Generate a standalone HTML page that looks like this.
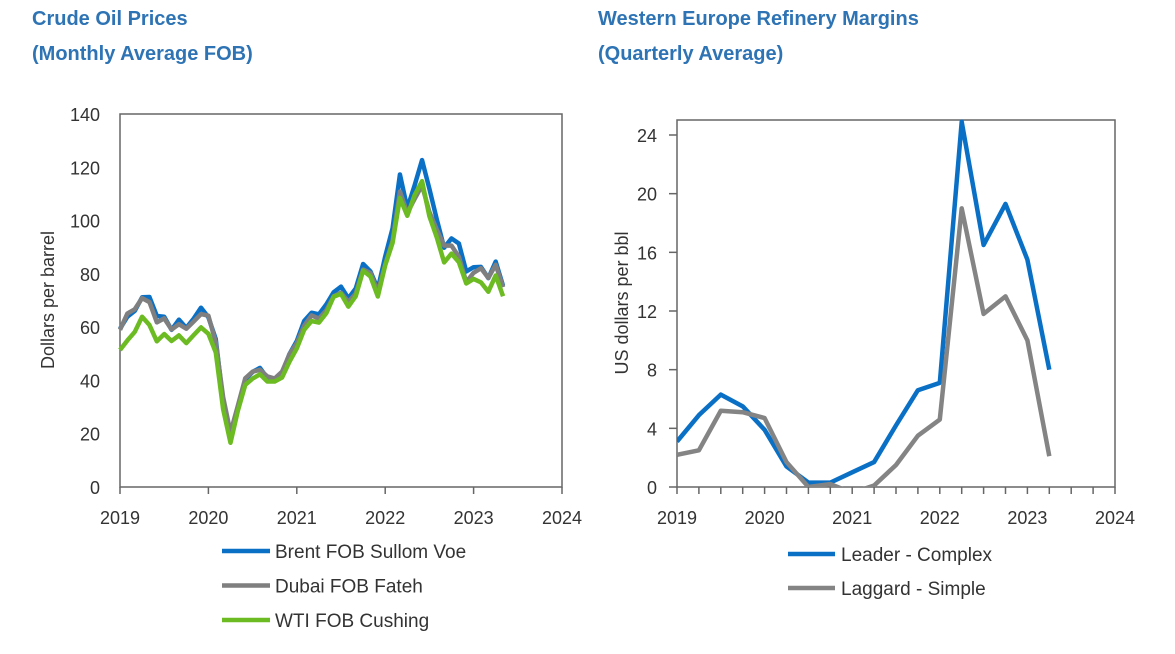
<!DOCTYPE html>
<html><head><meta charset="utf-8"><style>
body{margin:0;background:#fff;width:1175px;height:654px;overflow:hidden;font-family:"Liberation Sans",Arial,sans-serif}
.t{position:absolute;color:#2E74B5;font-weight:bold;font-size:20px;line-height:35px}
</style></head><body>
<div class="t" style="left:32px;top:2px">Crude Oil Prices<br>(Monthly Average FOB)</div>
<div class="t" style="left:598px;top:2px">Western Europe Refinery Margins<br>(Quarterly Average)</div>
<svg id="svg" width="1175" height="654" style="position:absolute;left:0;top:0" font-family="Liberation Sans, Arial, sans-serif"></svg>
<script>
const oilYears=["2019","2020","2021","2022","2023","2024"];
const oilTicks=[0,20,40,60,80,100,120,140];
const brent=[59.4,63.9,66.1,71.2,71.3,64.2,63.9,59.0,62.8,59.7,63.2,67.3,63.7,55.5,32.0,18.4,29.4,40.3,43.2,44.7,40.9,40.2,42.7,49.9,54.8,62.3,65.4,64.8,68.5,73.1,75.2,70.8,74.5,83.7,80.9,74.3,86.5,97.1,117.3,104.6,113.3,122.7,111.9,100.5,89.8,93.3,91.4,80.9,82.5,82.6,78.4,84.6,75.5];
const dubai=[59.0,65.1,66.7,70.9,69.4,61.8,63.3,59.1,61.1,59.4,62.1,64.9,64.3,54.2,33.7,20.4,30.5,40.8,43.3,44.0,41.5,40.7,43.3,49.8,54.0,60.5,64.4,63.2,66.3,71.6,72.9,69.5,72.6,81.6,80.3,73.2,83.5,92.4,110.9,102.8,108.2,113.2,103.2,96.6,90.6,90.6,86.4,76.9,80.4,82.1,78.5,83.4,75.0];
const wti=[51.4,55.0,58.2,63.9,60.8,54.7,57.4,54.8,56.9,54.0,57.0,59.9,57.5,50.5,29.2,16.6,28.6,38.3,40.7,42.3,39.6,39.6,41.1,47.0,52.0,59.0,62.3,61.7,65.2,71.4,72.5,67.7,71.6,81.2,79.0,71.5,83.2,91.6,108.5,101.8,109.6,114.8,101.6,93.7,84.3,87.6,84.4,76.4,78.1,76.8,73.3,79.4,71.6];
const oilSeries=["Brent FOB Sullom Voe","Dubai FOB Fateh","WTI FOB Cushing"];
const marginYears=["2019","2020","2021","2022","2023","2024"];
const marginTicks=[0,4,8,12,16,20,24];
const leader=[3.1,4.9,6.3,5.5,3.9,1.4,0.3,0.3,1.0,1.7,4.2,6.6,7.1,24.9,16.5,19.3,15.5,8.0];
const laggard=[2.2,2.5,5.2,5.1,4.7,1.7,0.0,0.2,-0.4,0.1,1.5,3.5,4.6,19.0,11.8,13.0,10.0,2.1];
const marginSeries=["Leader - Complex","Laggard - Simple"];

const svg=document.getElementById('svg');const NS='http://www.w3.org/2000/svg';
function mk(t,a,p){const e=document.createElementNS(NS,t);for(const k in a)e.setAttribute(k,a[k]);(p||svg).appendChild(e);return e;}
// left chart
const L={x0:120,x1:562,y0:487,y1:114};
const lx=m=>L.x0+m*(L.x1-L.x0)/60, ly=v=>L.y0-v*(L.y0-L.y1)/140;
let g=mk('g',{});
let r=mk('rect',{x:L.x0,y:L.y1,width:L.x1-L.x0,height:L.y0-L.y1,fill:'none',stroke:'#666','stroke-width':1.5},g);

oilTicks.forEach(v=>{const t=mk('text',{x:100,y:ly(v)+7,'text-anchor':'end','font-size':18,fill:'#333'},g);t.textContent=v;
});
oilYears.forEach((y,i)=>{const x=lx(i*12);mk('line',{x1:x,x2:x,y1:L.y0,y2:L.y0+7,stroke:'#666','stroke-width':1.5},g);
const t=mk('text',{x:x,y:524,'text-anchor':'middle','font-size':18,fill:'#333'},g);t.textContent=y;
});
let at=mk('text',{x:54,y:300,'text-anchor':'middle','font-size':18,fill:'#333',transform:'rotate(-90 54 300)'},g);at.textContent='Dollars per barrel';

const oilCols=['#0A70C6','#7F7F7F','#6CBB22'];
[brent,dubai,wti].forEach((d,i)=>{const p=mk('polyline',{points:d.map((v,m)=>lx(m)+','+ly(v)).join(' '),fill:'none',stroke:oilCols[i],'stroke-width':4.5,'stroke-linejoin':'round'},g);

const ly2=551+i*34.5;mk('line',{x1:222,x2:270,y1:ly2,y2:ly2,stroke:oilCols[i],'stroke-width':4.5},g);
const t=mk('text',{x:275,y:ly2+7,'font-size':19,fill:'#333'},g);t.textContent=oilSeries[i];
});
// right chart
const R={x0:677,x1:1115,y0:487,y1:120};
const rx=q=>R.x0+q*(R.x1-R.x0)/20, ry=v=>R.y0-v*(487-135)/24;
let g2=mk('g',{});
const cp=mk('clipPath',{id:'cp'},g2);mk('rect',{x:R.x0,y:R.y1-5,width:R.x1-R.x0,height:R.y0-R.y1+5},cp);
let r2=mk('rect',{x:R.x0,y:R.y1,width:R.x1-R.x0,height:R.y0-R.y1,fill:'none',stroke:'#666','stroke-width':1.5},g2);

marginTicks.forEach(v=>{mk('line',{x1:R.x0-8,x2:R.x0,y1:ry(v),y2:ry(v),stroke:'#666','stroke-width':1.5},g2);
const t=mk('text',{x:657,y:ry(v)+7,'text-anchor':'end','font-size':18,fill:'#333'},g2);t.textContent=v;
});
for(let q=0;q<=20;q++)mk('line',{x1:rx(q),x2:rx(q),y1:R.y0,y2:R.y0+7,stroke:'#666','stroke-width':1.5},g2);
marginYears.forEach((y,i)=>{const t=mk('text',{x:rx(i*4),y:524,'text-anchor':'middle','font-size':18,fill:'#333'},g2);t.textContent=y;
});
let at2=mk('text',{x:628,y:303,'text-anchor':'middle','font-size':18,fill:'#333',transform:'rotate(-90 628 303)'},g2);at2.textContent='US dollars per bbl';

const mCols=['#0A70C6','#848484'];
[leader,laggard].forEach((d,i)=>{const p=mk('polyline',{points:d.map((v,q)=>rx(q)+','+ry(v)).join(' '),fill:'none',stroke:mCols[i],'stroke-width':4.5,'stroke-linejoin':'round','clip-path':'url(#cp)'},g2);

const yy=554+i*34;mk('line',{x1:788,x2:835,y1:yy,y2:yy,stroke:mCols[i],'stroke-width':4.5},g2);
const t=mk('text',{x:841,y:yy+7,'font-size':19,fill:'#333'},g2);t.textContent=marginSeries[i];
});
</script>
</body></html>
